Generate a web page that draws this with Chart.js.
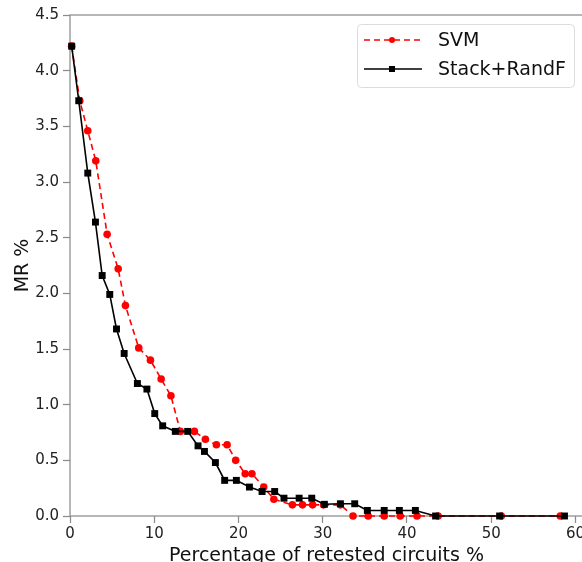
<!DOCTYPE html>
<html>
<head>
<meta charset="utf-8">
<script src="https://cdn.jsdelivr.net/npm/chart.js@4.4.1/dist/chart.umd.min.js"></script>
<style>
  html, body { margin: 0; padding: 0; background: #fff; overflow: hidden; }
  #wrap { width: 620px; height: 575px; }
</style>
</head>
<body>
<div id="wrap"><canvas id="mrChart" width="620" height="575"></canvas></div>
<script>
// values
const svmX = [0.2, 1.16, 2.11, 3.06, 4.41, 5.72, 6.58, 8.16, 9.55, 10.82, 11.98, 13.1, 14.77, 16.07, 17.38, 18.65, 19.67, 20.8, 21.6, 23.0, 24.2, 26.4, 27.6, 28.8, 30.1, 32.1, 33.6, 35.4, 37.3, 39.2, 41.2, 43.7, 51.2, 58.2];
const svmY = [4.22, 3.73, 3.46, 3.19, 2.53, 2.22, 1.89, 1.51, 1.40, 1.23, 1.08, 0.76, 0.76, 0.69, 0.64, 0.64, 0.50, 0.38, 0.38, 0.26, 0.15, 0.10, 0.10, 0.10, 0.10, 0.10, 0, 0, 0, 0, 0, 0, 0, 0];

const stackX = [0.2, 1.04, 2.11, 3.02, 3.82, 4.72, 5.52, 6.43, 8.0, 9.13, 10.06, 11.0, 12.5, 13.97, 15.2, 15.96, 17.26, 18.36, 19.75, 21.3, 22.8, 24.3, 25.4, 27.2, 28.7, 30.2, 32.1, 33.8, 35.3, 37.3, 39.1, 41.0, 43.4, 51.0, 58.7];
const stackY = [4.22, 3.73, 3.08, 2.64, 2.16, 1.99, 1.68, 1.46, 1.19, 1.14, 0.92, 0.81, 0.76, 0.76, 0.63, 0.58, 0.48, 0.32, 0.32, 0.26, 0.22, 0.22, 0.16, 0.16, 0.16, 0.105, 0.11, 0.11, 0.05, 0.05, 0.05, 0.05, 0, 0, 0];

const xTicks = [0, 10, 20, 30, 40, 50, 60];
const yTicks = [0, 0.5, 1.0, 1.5, 2.0, 2.5, 3.0, 3.5, 4.0, 4.5];

const seriesNames = ["SVM", "Stack+RandF"];

const FONT = "'DejaVu Sans', sans-serif";
const SPINE = "#8c8c8c";

function toPoints(xs, ys) {
    return xs.map((x, i) => ({ x: x, y: ys[i] }));
}

// matplotlib-like frame on all four sides
const framePlugin = {
    id: "frame",
    beforeDatasetsDraw(chart) {
        const a = chart.chartArea;
        const ctx = chart.ctx;
        ctx.save();
        ctx.strokeStyle = SPINE;
        ctx.lineWidth = 1.25;
        ctx.strokeRect(a.left, a.top, a.right - a.left, a.bottom - a.top);
        ctx.restore();
    }
};

// legend box in the top right, line + marker like the original
const legendPlugin = {
    id: "mplLegend",
    afterDraw(chart) {
        const ctx = chart.ctx;
        const box = { x: 357, y: 24, w: 217, h: 63 };
        ctx.save();
        ctx.fillStyle = "rgba(255,255,255,0.9)";
        ctx.strokeStyle = "#dcdcdc";
        ctx.lineWidth = 1;
        ctx.beginPath();
        ctx.roundRect(box.x + 0.5, box.y + 0.5, box.w, box.h, 4);
        ctx.fill();
        ctx.stroke();

        const rows = [40, 69];
        chart.data.datasets.forEach((ds, i) => {
            const y = rows[i];
            ctx.strokeStyle = ds.borderColor;
            ctx.lineWidth = ds.borderWidth;
            ctx.setLineDash(ds.borderDash || []);
            ctx.beginPath();
            ctx.moveTo(364, y);
            ctx.lineTo(422, y);
            ctx.stroke();
            ctx.setLineDash([]);
            ctx.fillStyle = ds.pointBackgroundColor;
            if (ds.pointStyle === "rect") {
                ctx.fillRect(389, y - 3, 6, 6);
            } else {
                ctx.beginPath();
                ctx.arc(392, y, 3, 0, Math.PI * 2);
                ctx.fill();
            }
            ctx.fillStyle = "#111";
            ctx.font = "19px " + FONT;
            ctx.textBaseline = "middle";
            ctx.fillText(ds.label, 438, y + 1);
        });
        ctx.restore();
    }
};

const ctx = document.getElementById("mrChart");

new Chart(ctx, {
    type: "line",
    data: {
        datasets: [
            {
                label: seriesNames[0],
                data: toPoints(svmX, svmY),
                order: 1,
                borderColor: "#ff0000",
                backgroundColor: "#ff0000",
                pointBackgroundColor: "#ff0000",
                pointBorderColor: "#ff0000",
                borderWidth: 1.6,
                borderDash: [6, 4],
                pointStyle: "circle",
                pointRadius: 3.8,
                pointBorderWidth: 0,
                tension: 0,
                fill: false,
                clip: false
            },
            {
                label: seriesNames[1],
                data: toPoints(stackX, stackY),
                order: 0,
                borderColor: "#000000",
                backgroundColor: "#000000",
                pointBackgroundColor: "#000000",
                pointBorderColor: "#000000",
                borderWidth: 1.6,
                pointStyle: "rect",
                pointRadius: 4.9,
                pointBorderWidth: 0,
                tension: 0,
                fill: false,
                clip: false
            }
        ]
    },
    options: {
        responsive: false,
        animation: false,
        events: [],
        layout: { padding: { left: 0, top: 15, right: 37, bottom: 0 } },
        plugins: {
            legend: { display: false },
            tooltip: { enabled: false }
        },
        scales: {
            x: {
                type: "linear",
                min: 0,
                max: 60.9,
                afterBuildTicks: scale => { scale.ticks = xTicks.map(v => ({ value: v })); },
                afterFit: scale => { scale.height = 59; },
                border: { display: false },
                grid: {
                    drawOnChartArea: false,
                    drawTicks: true,
                    tickLength: 7,
                    tickColor: SPINE,
                    tickWidth: 1.25
                },
                ticks: {
                    color: "#222",
                    font: { family: FONT, size: 15 },
                    padding: 2,
                    maxRotation: 0,
                    callback: v => String(v)
                },
                title: {
                    display: true,
                    text: "Percentage of retested circuits %",
                    color: "#111",
                    font: { family: FONT, size: 19 },
                    padding: { top: 0, bottom: 8 }
                }
            },
            y: {
                type: "linear",
                min: 0,
                max: 4.5,
                afterBuildTicks: scale => { scale.ticks = yTicks.map(v => ({ value: v })); },
                afterFit: scale => { scale.width = 70; },
                border: { display: false },
                grid: {
                    drawOnChartArea: false,
                    drawTicks: true,
                    tickLength: 7,
                    tickColor: SPINE,
                    tickWidth: 1.25
                },
                ticks: {
                    color: "#222",
                    font: { family: FONT, size: 15 },
                    padding: 4,
                    callback: v => v.toFixed(1)
                },
                title: {
                    display: true,
                    text: "MR %",
                    color: "#111",
                    font: { family: FONT, size: 19 },
                    padding: { top: 12, bottom: 0 }
                }
            }
        }
    },
    plugins: [framePlugin, legendPlugin]
});
</script>
</body>
</html>
